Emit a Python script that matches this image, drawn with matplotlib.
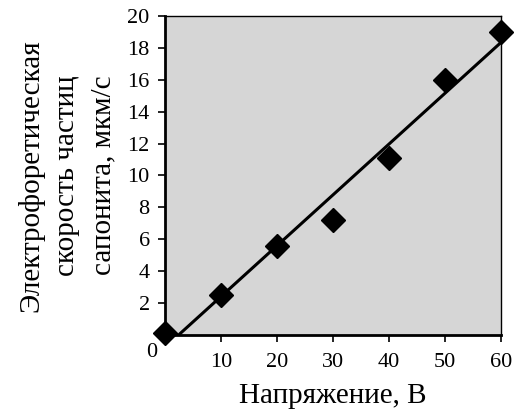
import numpy as np
import matplotlib
matplotlib.use("Agg")
import matplotlib.pyplot as plt

plt.rcParams['font.family'] = ['Liberation Serif', 'DejaVu Serif']

voltage = [0, 10, 20, 30, 40, 50, 60]
velocity = [0.1, 2.5, 5.6, 7.2, 11.1, 16.0, 19.0]
x_ticks = [10, 20, 30, 40, 50, 60]
y_ticks = [2, 4, 6, 8, 10, 12, 14, 16, 18, 20]

fig = plt.figure(figsize=(5.15, 4.11), dpi=100)
ax = fig.add_axes([165 / 515, 1 - 335 / 411, 336 / 515, 319 / 411])
ax.set_facecolor('#d6d6d6')

# linear trend through the points
k, b = np.polyfit(voltage, velocity, 1)
xs = np.array([0, 60])
ax.plot(xs, k * xs + b, color='black', lw=2.2, zorder=2)
ax.plot(voltage, velocity, 'D', color='black', ms=12, zorder=3, clip_on=False)

ax.set_xlim(0, 60)
ax.set_ylim(0, 20)
ax.set_xticks(x_ticks)
ax.set_yticks(y_ticks)
ax.tick_params(labelsize=16, direction='out', length=5, width=1.2, pad=6)
ax.tick_params(axis='x', pad=8)
for s in ['left', 'bottom']:
    ax.spines[s].set_linewidth(2)
for s in ['top', 'right']:
    ax.spines[s].set_linewidth(1)
ax.text(-2.3, -1.1, '0', fontsize=16, ha='center', va='center')

ax.set_xlabel('Напряжение, В', fontsize=21, labelpad=8)
ax.set_ylabel('Электрофоретическая\nскорость частиц\nсапонита, мкм/с',
              fontsize=21, labelpad=8, linespacing=1.5)

fig.savefig('out.png', dpi=100)
